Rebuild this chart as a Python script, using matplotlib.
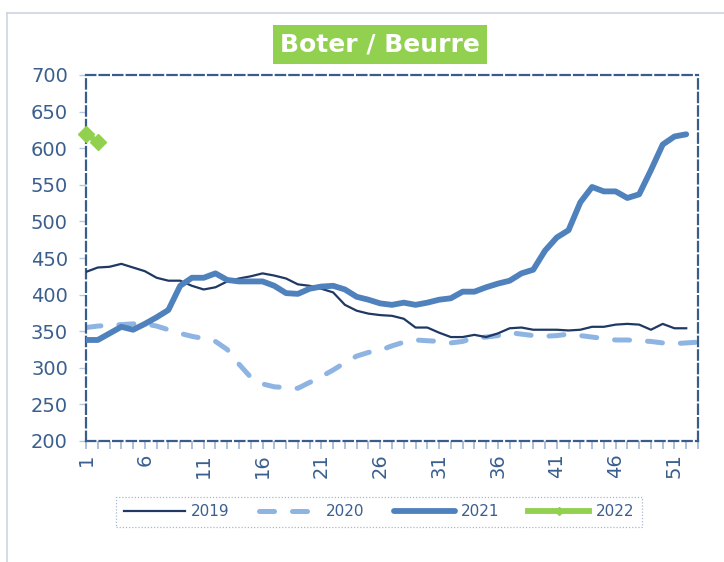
import matplotlib
matplotlib.use("Agg")
import matplotlib.pyplot as plt
from matplotlib.lines import Line2D

weeks_2019 = list(range(1, 53))
weeks_2020 = list(range(1, 54))
weeks_2021 = list(range(1, 53))
weeks_2022 = [1, 2]

v2019 = [431, 437, 438, 442, 437, 432, 423, 419, 419, 412,
         407, 410, 418, 422, 425, 429, 426, 422, 414, 412,
         408, 403, 386, 378, 374, 372, 371, 367, 355, 355,
         348, 342, 342, 345, 342, 347, 354, 355, 352, 352,
         352, 351, 352, 356, 356, 359, 360, 359, 352, 360,
         354, 354]
v2020 = [355, 357, 358, 359, 360, 360, 357, 352, 347, 343,
         340, 336, 325, 305, 287, 278, 274, 273, 272, 280,
         288, 297, 307, 316, 321, 324, 330, 335, 338, 337,
         336, 334, 336, 341, 342, 344, 348, 346, 344, 343,
         344, 346, 344, 342, 340, 338, 338, 337, 336, 334,
         333, 334, 335]
v2021 = [338, 338, 347, 356, 352, 360, 369, 379, 412, 423,
         423, 429, 420, 418, 418, 418, 412, 402, 401, 408,
         411, 412, 407, 397, 393, 388, 386, 389, 386, 389,
         393, 395, 404, 404, 410, 415, 419, 429, 434, 460,
         478, 488, 526, 547, 541, 541, 532, 537, 570, 605,
         616, 619]
v2022 = [620, 608]

series_labels = ["2019", "2020", "2021", "2022"]
title = "Boter / Beurre"
yticks = [200, 250, 300, 350, 400, 450, 500, 550, 600, 650, 700]
xtick_labels = [1, 6, 11, 16, 21, 26, 31, 36, 41, 46, 51]

C2019 = "#1F3864"
C2020 = "#8DB4E2"
C2021 = "#4F81BD"
C2022 = "#92D050"
AXC = "#385D8A"
TXT = "#3A5F8E"

fig = plt.figure(figsize=(7.24, 5.62), dpi=100)
W, H = 724, 562
ax = fig.add_axes([86 / W, 1 - 441 / H, (698 - 86) / W, (441 - 75) / H])

ax.plot(weeks_2019, v2019, color=C2019, lw=1.6, label=series_labels[0], zorder=3)
ax.plot(weeks_2020, v2020, color=C2020, lw=3.6, linestyle=(0, (3, 3.6)),
        dash_capstyle="round", label=series_labels[1], zorder=2)
ax.plot(weeks_2021, v2021, color=C2021, lw=4.2, solid_capstyle="round",
        solid_joinstyle="round", label=series_labels[2], zorder=4)
ax.plot(weeks_2022, v2022, color=C2022, lw=4.2, marker="D", markersize=8.5,
        label=series_labels[3], zorder=5, clip_on=False)

ax.set_xlim(1, 53)
ax.set_ylim(200, 700)
ax.set_yticks(yticks)
ax.set_yticklabels([str(v) for v in yticks], fontsize=14, color=TXT)
ax.set_xticks(range(1, 54), minor=True)
ax.set_xticks(xtick_labels)
ax.set_xticklabels([str(v) for v in xtick_labels], fontsize=14, color=TXT, rotation=90)
ax.tick_params(axis="x", which="both", direction="out", length=6, width=1.2,
               color="#9FB6D6", pad=3)
ax.tick_params(axis="y", direction="out", length=5, width=1, color="#B8C8DE", pad=8)

for s in ax.spines.values():
    s.set_color(AXC)
    s.set_linewidth(1.6)
    s.set_linestyle((0, (4.2, 1.9)))

# outer chart border
fig.add_artist(Line2D([7 / W, 1.0], [1 - 13 / H, 1 - 13 / H], color="#CDD5E3", lw=1.2))
fig.add_artist(Line2D([7 / W, 7 / W], [0, 1 - 13 / H], color="#CDD5E3", lw=1.2))

fig.text(380 / W, 1 - 44 / H, title, ha="center", va="center", fontsize=18,
         fontweight="bold", color="white",
         bbox=dict(facecolor=C2022, edgecolor="none", boxstyle="square,pad=0.3"))

leg = fig.legend(loc="center", bbox_to_anchor=((107 + 651) / 2 / W, 1 - 512 / H),
                 ncol=4, frameon=True, fontsize=11, handlelength=4.0,
                 columnspacing=1.9, handletextpad=0.4, borderpad=0.5,
                 borderaxespad=0, fancybox=False)
leg.get_frame().set_linestyle((0, (1, 1.5)))
leg.get_frame().set_edgecolor("#8FA8C8")
leg.get_frame().set_linewidth(0.9)
for t in leg.get_texts():
    t.set_color(TXT)
for i, h in enumerate(leg.legend_handles):
    if i == 3:
        h.set_markersize(4)
        h.set_markevery([1])

fig.savefig("out.png", dpi=100)
